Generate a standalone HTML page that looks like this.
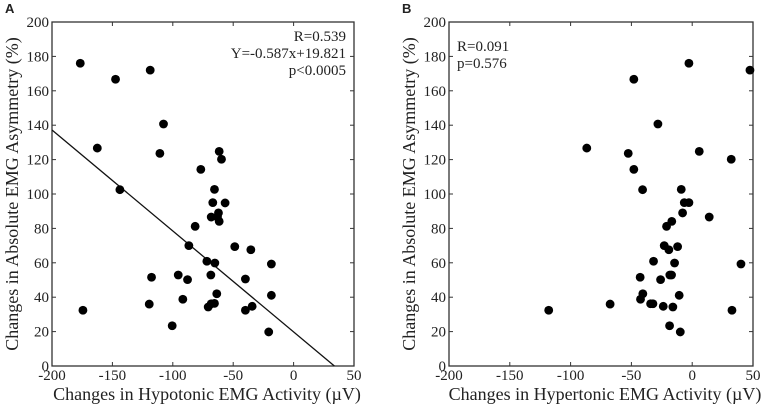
<!DOCTYPE html>
<html><head><meta charset="utf-8"><style>
body{margin:0;background:#fff;}
svg text{font-family:"Liberation Serif",serif;fill:#222;}
</style></head><body>
<svg id="chart" width="767" height="409" viewBox="0 0 767 409"></svg>
<script>
const xTicks=[-200,-150,-100,-50,0,50];
const yTicks=[0,20,40,60,80,100,120,140,160,180,200];
const aX=[-176.6,-174.4,-162.5,-147.4,-143.8,-118.7,-117.6,-119.5,-110.7,-107.7,-100.5,-95.5,-91.7,-87.8,-86.7,-81.5,-76.8,-71.8,-70.7,-68.5,-68.2,-68.2,-66.9,-65.5,-65.2,-65.5,-63.6,-63,-62.2,-61.6,-61.6,-59.7,-56.7,-48.7,-39.9,-39.9,-35.4,-34.3,-20.6,-18.4,-18.4];
const aY=[176,32.4,126.7,166.7,102.5,172,51.6,36,123.6,140.7,23.4,52.9,38.8,50.2,70,81.2,114.3,60.9,34.3,52.9,36.2,86.6,95,102.7,59.9,36.4,42,86.6,89,84.1,124.8,120.2,94.8,69.4,50.6,32.4,67.6,34.7,19.8,59.3,41.1];
const bX=[-118,-86.7,-67.5,-52.6,-48,-48,-42.8,-42.5,-40.8,-40.6,-34.2,-32.3,-31.8,-28.2,-26,-23.8,-23,-21.1,-19.2,-18.6,-18.4,-17,-16.8,-15.9,-14.5,-12,-10.7,-9.8,-9,-7.9,-6.5,-2.7,-2.7,5.8,14,32.1,32.7,40.1,47.5];
const bY=[32.4,126.7,36,123.6,166.7,114.3,51.6,38.8,102.5,42,36.2,36.2,60.9,140.7,50.2,34.7,70,81.2,67.6,23.4,52.9,52.9,84.1,34.3,59.9,69.4,41.1,19.8,102.7,89,95,176,95,124.8,86.6,120.2,32.4,59.3,172];
const fitSlope=-0.587, fitIntercept=19.821;
const NS='http://www.w3.org/2000/svg';
const svg=document.getElementById('chart');
function mk(tag,attrs,parent){const e=document.createElementNS(NS,tag);for(const k in attrs)e.setAttribute(k,attrs[k]);(parent||svg).appendChild(e);return e;}
function panel(id,L,R,T,B,xs,ys,xTitle,statLines,statAnchor,fit){
  const g=mk('g',{});
  
  
  const sx=v=>L+(v-(-200))/(250)*(R-L);
  const sy=v=>B-(v/200)*(B-T);
  const frame=mk('rect',{x:L,y:T,width:R-L,height:B-T,fill:'none',stroke:'#333','stroke-width':1.3},g);
  
  
  xTicks.forEach(t=>{
    const x=sx(t);
    mk('line',{x1:x,x2:x,y1:B,y2:B-4,stroke:'#333'},g);
    mk('line',{x1:x,x2:x,y1:T,y2:T+4,stroke:'#333'},g);
    const tx=mk('text',{x:x,y:380,'text-anchor':'middle','font-size':15},g);
    tx.textContent=t;
    
    
  });
  yTicks.forEach(t=>{
    const y=sy(t);
    mk('line',{x1:L,x2:L+4,y1:y,y2:y,stroke:'#333'},g);
    mk('line',{x1:R,x2:R-4,y1:y,y2:y,stroke:'#333'},g);
    const ty=mk('text',{x:L-3,y:y+5,'text-anchor':'end','font-size':15},g);
    ty.textContent=t;
    
    
  });
  const xt=mk('text',{x:(L+R)/2+4,y:400,'text-anchor':'middle','font-size':18},g);
  xt.textContent=xTitle;
  
  
  const yx=L-34;
  const yt=mk('text',{x:yx,y:(T+B)/2,'text-anchor':'middle','font-size':18,transform:`rotate(-90 ${yx} ${(T+B)/2})`},g);
  yt.textContent='Changes in Absolute EMG Asymmetry (%)';
  
  
  const lab=mk('text',{x:L-47,y:13,'font-size':13,'font-weight':'bold',style:'font-family:"Liberation Sans",sans-serif'},g);
  lab.textContent=id;
  
  
  statLines.forEach((s,i)=>{
    const st=mk('text',statAnchor==='end'?{x:R-8,y:41+i*17,'text-anchor':'end','font-size':15}:{x:L+8,y:51+i*17,'font-size':15},g);
    st.textContent=s;
    
    
  });
  if(fit){
    const x0=-200,x1=-fitIntercept/fitSlope;
    const ln=mk('line',{x1:sx(x0),y1:sy(fitSlope*x0+fitIntercept),x2:sx(x1),y2:sy(0),stroke:'#111','stroke-width':1.3},g);
    
    
  }
  xs.forEach((v,i)=>{
    const c=mk('circle',{cx:sx(v),cy:sy(ys[i]),r:4.4,fill:'#000'},g);
    
    
  });
}
panel('A',52,354,22,366,aX,aY,'Changes in Hypotonic EMG Activity (\u00b5V)',['R=0.539','Y=-0.587x+19.821','p<0.0005'],'end',true);
panel('B',449,753,22,366,bX,bY,'Changes in Hypertonic EMG Activity (\u00b5V)',['R=0.091','p=0.576'],'start',false);
</script>
</body></html>
